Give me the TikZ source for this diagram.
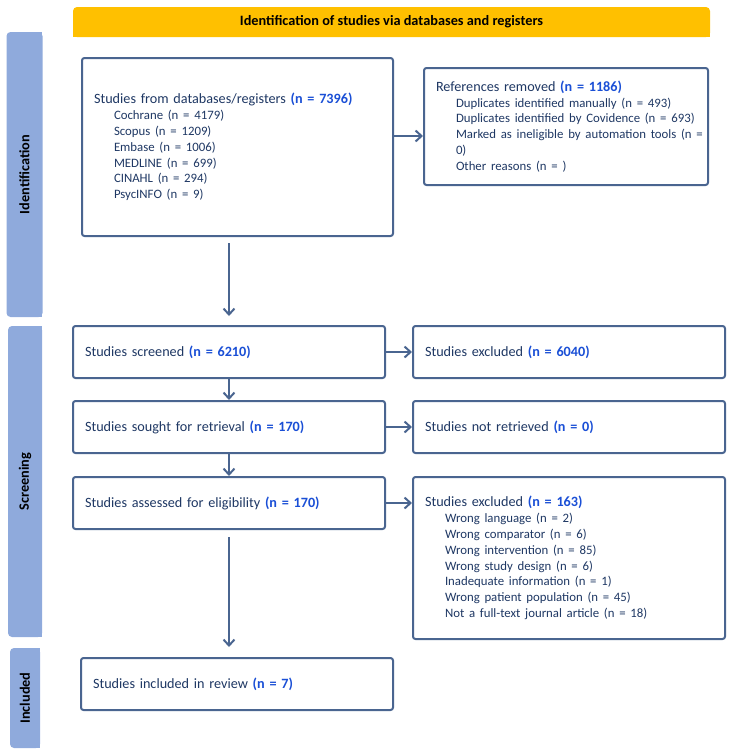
\documentclass[tikz,border=0pt]{standalone}
\usepackage{fontspec}
\setmainfont{Carlito}
\usetikzlibrary{arrows.meta}
\definecolor{boxline}{HTML}{4A6590}
\definecolor{navy}{HTML}{1F3864}
\definecolor{numblue}{HTML}{1A4FD6}
\definecolor{sidebar}{HTML}{8FAADC}
\definecolor{hdr}{HTML}{FFC000}
\newcommand{\nn}[1]{\textcolor{numblue}{\textbf{#1}}}
\newcommand{\itm}[1]{\hspace*{20pt}\mbox{\fontsize{12.8}{15.8}\selectfont #1}}
\begin{document}
\begin{tikzpicture}[x=1pt,y=-1pt,
  font=\fontsize{14.2}{15.8}\selectfont,
  box/.style={draw=boxline, line width=2pt, rounded corners=2.5pt, fill=white,
    text=navy, align=left, anchor=north west, inner xsep=12pt, inner ysep=0pt},
  arr/.style={draw=boxline, line width=2pt,
    -{Straight Barb[length=6pt,width=11pt,line width=2pt]}},
  side/.style={fill=sidebar, rounded corners=4pt, rotate=90, inner sep=0pt,
    font=\fontsize{14.3}{15.8}\selectfont\bfseries, text=black}]
\useasboundingbox (0,0) rectangle (734,755);

% header
\fill[hdr] (73,20) rectangle (710,37);
\node[fill=hdr, rounded corners=4pt, minimum width=637pt, minimum height=30pt,
  inner sep=0pt, font=\fontsize{14.3}{15.8}\selectfont\bfseries, text=black]
  (hdr) at (391.5,22) {Identification of studies via databases and registers};

% side bars
\fill[sidebar] (30,32) rectangle (42,317);
\node[side, minimum width=285pt, minimum height=36pt] (idbar) at (24.5,174.5) {Identification};
\fill[sidebar] (30,326) rectangle (42,637);
\node[side, minimum width=311pt, minimum height=34pt] (scbar) at (25,481.5) {Screening};
\fill[sidebar] (28,648) rectangle (40,748);
\node[side, minimum width=100pt, minimum height=30pt] (inbar) at (25,698) {Included};

% boxes
\node[box, text width=287pt, minimum height=178pt] (db) at (81,57) {%
\mbox{Studies from databases/registers \nn{(n = 7396)}}\\
\itm{Cochrane (n = 4179)}\\
\itm{Scopus (n = 1209)}\\
\itm{Embase (n = 1006)}\\
\itm{MEDLINE (n = 699)}\\
\itm{CINAHL (n = 294)}\\
\itm{PsycINFO (n = 9)}};

\node[box, text width=260pt, minimum height=117pt] (refs) at (423,67) {%
\mbox{References removed \nn{(n = 1186)}}\\
\itm{Duplicates identified manually (n = 493)}\\
\itm{Duplicates identified by Covidence (n = 693)}\\
\itm{Marked as ineligible by automation tools (n =}\\
\itm{0)}\\
\itm{Other reasons (n = )}};

\node[box, text width=288pt, minimum height=52pt] (scr) at (72,325) {Studies screened \nn{(n = 6210)}};
\node[box, text width=288pt, minimum height=52pt] (exc1) at (412,325) {Studies excluded \nn{(n = 6040)}};
\node[box, text width=288pt, minimum height=52pt] (sought) at (72,400) {Studies sought for retrieval \nn{(n = 170)}};
\node[box, text width=288pt, minimum height=52pt] (notret) at (412,400) {Studies not retrieved \nn{(n = 0)}};
\node[box, text width=288pt, minimum height=52pt] (elig) at (72,476) {Studies assessed for eligibility \nn{(n = 170)}};
\node[box, text width=288pt, minimum height=162pt] (exc2) at (412,476) {%
Studies excluded \nn{(n = 163)}\\
\itm{Wrong language (n = 2)}\\
\itm{Wrong comparator (n = 6)}\\
\itm{Wrong intervention (n = 85)}\\
\itm{Wrong study design (n = 6)}\\
\itm{Inadequate information (n = 1)}\\
\itm{Wrong patient population (n = 45)}\\
\itm{Not a full-text journal article (n = 18)}};
\node[box, text width=288pt, minimum height=52pt] (incl) at (80,657) {Studies included in review \nn{(n = 7)}};

% arrows
\draw[arr] (db.east |- 0,136) -- (refs.west |- 0,136);
\draw[arr, shorten <=6pt, shorten >=9pt] (db.south -| scr.north) -- (scr.north);
\draw[arr] (scr.east) -- (scr.east -| exc1.west);
\draw[arr] (scr.south) -- (sought.north);
\draw[arr] (sought.east) -- (sought.east -| notret.west);
\draw[arr] (sought.south) -- (elig.north);
\draw[arr] (elig.east) -- (elig.east -| exc2.west);
\draw[arr, shorten <=7pt, shorten >=10pt] (elig.south) -- (elig.south |- incl.north);
\end{tikzpicture}
\end{document}
